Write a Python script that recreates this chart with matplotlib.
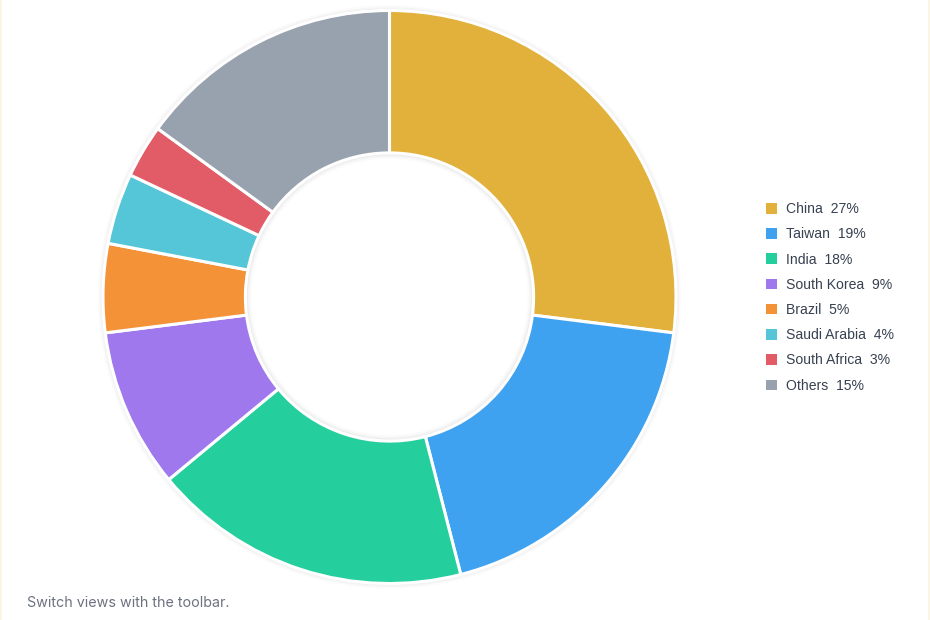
import matplotlib
matplotlib.use("Agg")
import matplotlib.pyplot as plt
from matplotlib.patches import Patch

# data
countries = ["China", "Taiwan", "India", "South Korea", "Brazil",
             "Saudi Arabia", "South Africa", "Others"]
shares = [27, 19, 18, 9, 5, 4, 3, 15]
colors = ["#E2B13C", "#3FA2F0", "#24CE9D", "#9F78EE", "#F39237",
          "#55C6D8", "#E25C68", "#98A2AE"]

W, H = 930, 620
fig = plt.figure(figsize=(W / 100, H / 100), dpi=100)
fig.patch.set_facecolor("white")

# pie centre (389.5, 297) px, outer radius ~286 px
cx, cy, r = 389.5, 297, 286.5
ax = fig.add_axes([(cx - r) / W, (H - cy - r) / H, 2 * r / W, 2 * r / H])
ax.set_xlim(-1, 1)
ax.set_ylim(-1, 1)
ax.set_aspect("equal")
ax.axis("off")

# faint shadow behind the ring
for k, a in enumerate([0.035, 0.025, 0.015]):
    ax.pie([1], radius=1.0 + 0.006 * (k + 1), colors=["#000000"],
           wedgeprops=dict(width=0.5 + 0.012 * (k + 1), alpha=a, linewidth=0),
           startangle=90)

ax.pie(shares, colors=colors, startangle=90, counterclock=False,
       radius=1.0,
       wedgeprops=dict(width=0.497, edgecolor="white", linewidth=2.2))
ax.set_xlim(-1, 1)
ax.set_ylim(-1, 1)

handles = [Patch(facecolor=c, edgecolor="none") for c in colors]
labels = [f"{n}  {v}%" for n, v in zip(countries, shares)]
fig.legend(handles, labels, loc="upper left",
           bbox_to_anchor=(760 / W, 1 - 196.5 / H), frameon=False,
           prop={"family": "Liberation Sans", "size": 10.1},
           labelcolor="#374151", handlelength=0.78, handleheight=0.78,
           handletextpad=0.68, labelspacing=0.8, borderaxespad=0)

fig.text(27 / W, 1 - 603 / H, "Switch views with the toolbar.",
         fontsize=10.3, family="Inter", color="#6B7280", va="center")

# thin cream frame edges seen at the sides
fig.add_artist(plt.Line2D([1 / W, 1 / W], [0, 1], color="#FBF3E2", lw=1.2))
fig.add_artist(plt.Line2D([928.5 / W, 928.5 / W], [0, 1], color="#FBF3E2", lw=1.2))

fig.savefig("out.png", dpi=100)
